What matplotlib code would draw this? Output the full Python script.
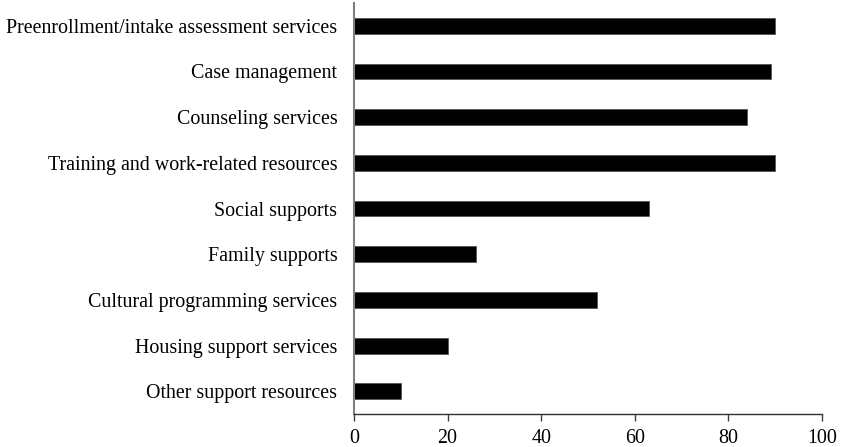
import matplotlib.pyplot as plt

categories = [
    'Preenrollment/intake assessment services',
    'Case management',
    'Counseling services',
    'Training and work-related resources',
    'Social supports',
    'Family supports',
    'Cultural programming services',
    'Housing support services',
    'Other support resources',
]
values = [90, 89, 84, 90, 63, 26, 52, 20, 10]
xticks = [0, 20, 40, 60, 80, 100]

plt.rcParams['font.family'] = ['Liberation Serif', 'DejaVu Serif']

fig = plt.figure(figsize=(8.41, 4.47), dpi=100)
ax = fig.add_axes([0.4209, 0.0738, 0.5565, 0.9195])

pos = list(range(len(categories)))
ax.barh(pos, values, height=0.35, color='black', edgecolor='#555555', linewidth=0.6)

ax.set_ylim(len(categories) - 0.5, -0.5)
ax.set_xlim(0, 100)
ax.set_yticks(pos)
ax.set_yticklabels(categories, fontsize=14.4)
ax.set_xticks(xticks)
ax.set_xticklabels([str(t) for t in xticks], fontsize=14.4)

ax.tick_params(axis='y', length=0, pad=12)
ax.tick_params(axis='x', length=5, width=1, color='#404040', pad=6)

for side in ['top', 'right']:
    ax.spines[side].set_visible(False)
ax.spines['left'].set_color('#808080')
ax.spines['left'].set_linewidth(1.5)
ax.spines['bottom'].set_color('#303030')
ax.spines['bottom'].set_linewidth(1)

fig.savefig('out.png', dpi=100)
